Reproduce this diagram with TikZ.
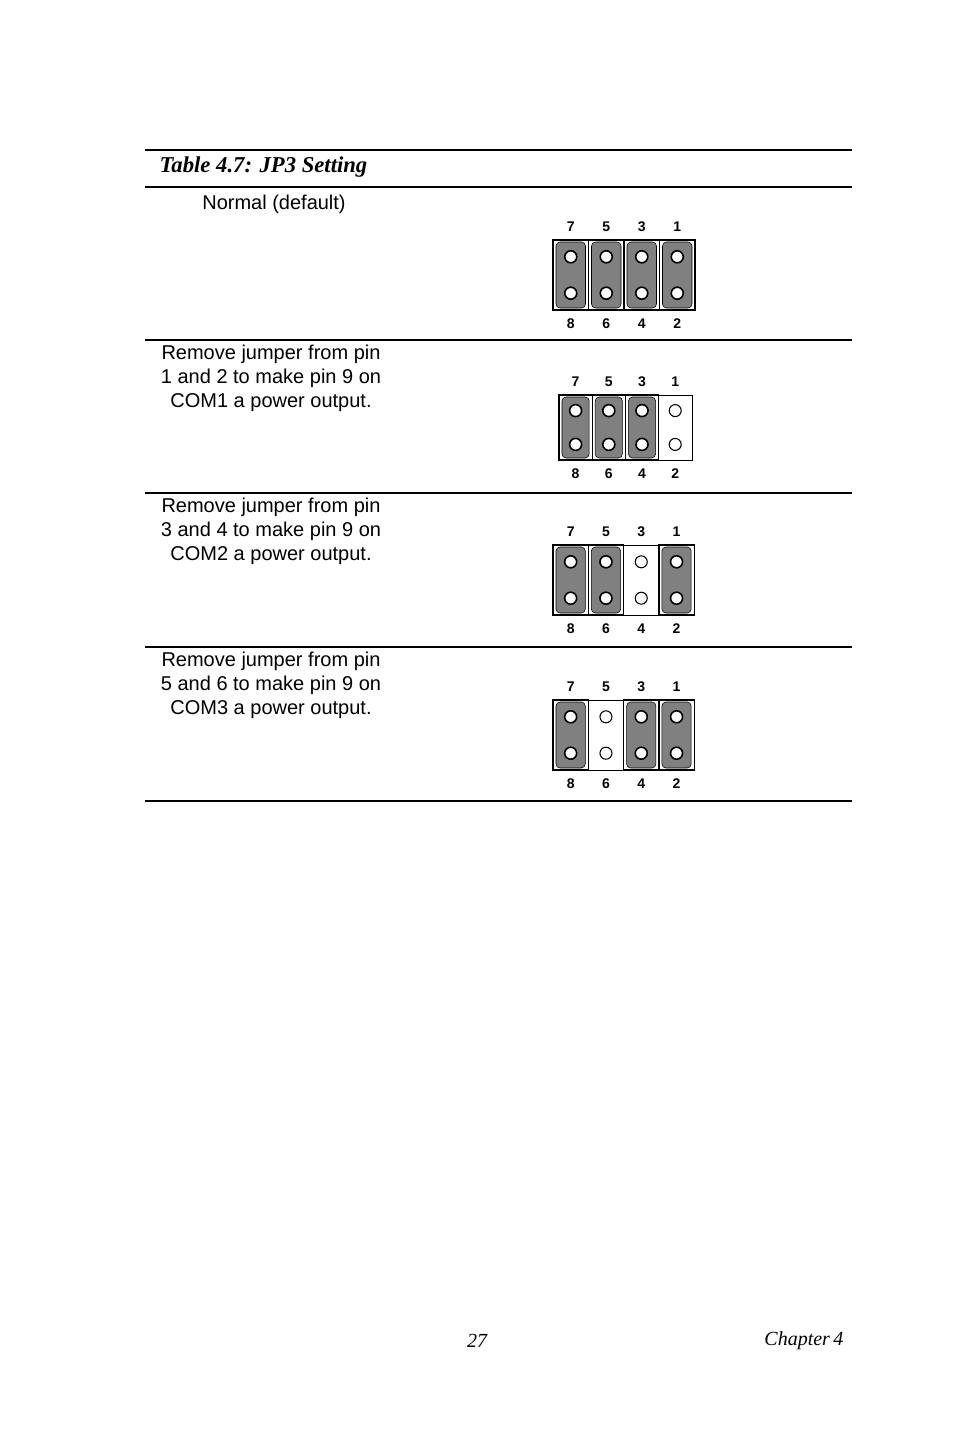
\documentclass[tikz,border=0pt]{standalone}
\usepackage{fontspec}
\setmainfont{Liberation Sans}
\newfontfamily\serifit{Liberation Serif}
\usetikzlibrary{positioning}
\tikzset{rule/.style={line width=0.9pt},
  body/.style={font=\fontsize{15}{18}\selectfont, align=center, inner sep=0pt},
  pinnum/.style={font=\bfseries\fontsize{10.5}{12}\selectfont, inner sep=0pt},
  jcap/.style={fill=black!50, draw=black, rounded corners=3pt},
  hole/.style={circle, draw=black, fill=white, line width=1.2pt, minimum size=9pt, inner sep=0pt}}
% #1 left x, #2 top y, #3 pitch, #4 height, #5 open column (9 = none)
\newcommand{\jumper}[5]{
  \foreach \c/\t/\b in {0/7/8,1/5/6,2/3/4,3/1/2}{
    \pgfmathsetmacro{\cx}{#1+#3*(\c+0.5)}
    \node[pinnum] at (\cx,#2-13) {\t};
    \node[pinnum] at (\cx,#2+#4+14) {\b};
    \ifnum\c=#5\relax
      \draw (#1+#3*\c,#2) rectangle ++(#3,#4);
      \node[hole, line width=0.8pt] at (\cx,#2+#4*0.24) {};
      \node[hole, line width=0.8pt] at (\cx,#2+#4*0.76) {};
    \else
      \draw[line width=1pt] (#1+#3*\c,#2) rectangle ++(#3,#4);
      \draw[jcap] (#1+#3*\c+3,#2+2) rectangle ++(#3-6,#4-4);
      \node[hole] at (\cx,#2+#4*0.24) {};
      \node[hole] at (\cx,#2+#4*0.76) {};
    \fi
  }
}
\begin{document}
\begin{tikzpicture}[x=0.75pt,y=-0.75pt]
\useasboundingbox (0,0) rectangle (954,1430);
% table rules
\foreach \y in {150,187,340,493,647}
  \draw[rule] (145,\y) -- (852,\y);
\draw[line width=1.6pt] (145,801) -- (852,801);
\node[font=\serifit\bfseries\itshape\fontsize{17}{20}\selectfont, anchor=west] (title) at (155,167) {Table 4.7: JP3 Setting};
% settings
\node[body] (normal) at (274,204) {Normal (default)};
\node[body, anchor=north] (com1) at (271,345) {Remove jumper from pin\\1 and 2 to make pin 9 on\\COM1 a power output.};
\node[body, anchor=north] (com2) at (271,498) {Remove jumper from pin\\3 and 4 to make pin 9 on\\COM2 a power output.};
\node[body, anchor=north] (com3) at (271,652) {Remove jumper from pin\\5 and 6 to make pin 9 on\\COM3 a power output.};
% jumpers
\jumper{553}{240}{35.5}{70}{9}
\jumper{559}{395}{33.2}{65}{3}
\jumper{553}{545}{35.3}{70}{2}
\jumper{553}{700}{35.3}{70}{1}
% footer
\node[font=\serifit\itshape\fontsize{15}{18}\selectfont] (page) at (477,1341) {27};
\node[font=\serifit\itshape\fontsize{15}{18}\selectfont, anchor=east] (chap) at (848,1341) {Chapter\,4};
\end{tikzpicture}
\end{document}
